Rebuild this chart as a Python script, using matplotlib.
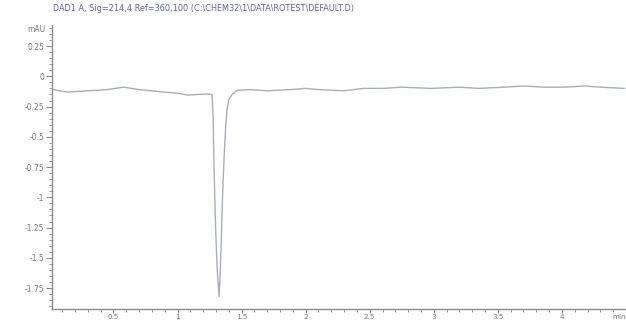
import matplotlib
matplotlib.use('Agg')
import matplotlib.pyplot as plt
from matplotlib.ticker import MultipleLocator

# trace (time in min, signal in mAU)
time_min = [0.03, 0.14, 0.30, 0.45, 0.58, 0.70, 0.89, 1.00, 1.08, 1.16, 1.23, 1.27,
            1.278, 1.285, 1.297, 1.309, 1.324, 1.332, 1.340, 1.351, 1.363, 1.375,
            1.386, 1.402, 1.425, 1.47, 1.57, 1.70, 1.88, 2.00, 2.10, 2.30, 2.45,
            2.60, 2.75, 2.98, 3.20, 3.35, 3.55, 3.70, 3.86, 4.02, 4.18, 4.30, 4.49]
signal_mau = [-0.11, -0.13, -0.12, -0.11, -0.09, -0.11, -0.13, -0.14, -0.155, -0.15, -0.147, -0.15,
              -0.35, -0.76, -1.25, -1.58, -1.82, -1.66, -1.41, -1.00, -0.68, -0.43,
              -0.27, -0.19, -0.15, -0.115, -0.11, -0.12, -0.11, -0.10, -0.11, -0.12, -0.10,
              -0.10, -0.09, -0.10, -0.09, -0.10, -0.09, -0.08, -0.09, -0.09, -0.08, -0.09, -0.10]

x_ticks = [0.5, 1, 1.5, 2, 2.5, 3, 3.5, 4, 4.5]
x_labels = ['0.5', '1', '1.5', '2', '2.5', '3', '3.5', '4', 'min']
y_ticks = [0.25, 0, -0.25, -0.5, -0.75, -1, -1.25, -1.5, -1.75]
y_labels = ['0.25', '0', '-0.25', '-0.5', '-0.75', '-1', '-1.25', '-1.5', '-1.75']

title = 'DAD1 A, Sig=214,4 Ref=360,100 (C:\\CHEM32\\1\\DATA\\ROTEST\\DEFAULT.D)'

grey = '#8a8a8a'

fig = plt.figure(figsize=(6.26, 3.27), dpi=100)
ax = fig.add_axes([0.083, 0.056, 0.917, 0.868])

ax.plot(time_min, signal_mau, color='#a8adc0', linewidth=1.0)

ax.set_xlim(0.02, 4.5)
ax.set_ylim(-1.92, 0.425)

ax.spines['top'].set_visible(False)
ax.spines['right'].set_visible(False)
for s in ['left', 'bottom']:
    ax.spines[s].set_color(grey)
    ax.spines[s].set_linewidth(1.0)

ax.set_xticks(x_ticks)
ax.set_xticklabels(x_labels)
ax.set_yticks(y_ticks)
ax.set_yticklabels(y_labels)
ax.xaxis.set_minor_locator(MultipleLocator(0.1))
ax.yaxis.set_minor_locator(MultipleLocator(0.05))
ax.tick_params(which='major', length=4, width=0.8, color=grey, labelcolor='#7a7a7a',
               labelsize=5.5, pad=1.5)
ax.tick_params(axis='x', which='major', length=3, pad=0.5, labelsize=5.2)
ax.tick_params(which='minor', length=2, width=0.6, color=grey)
ax.get_xticklabels()[-1].set_horizontalalignment('right')

ax.text(-0.012, 0.39, 'mAU', transform=ax.get_yaxis_transform(), ha='right', va='center',
        fontsize=5.5, color='#7a7a7a')
fig.text(0.085, 0.975, title, ha='left', va='center', fontsize=5.9, color='#6060c8')

fig.savefig('out.png', dpi=100)
